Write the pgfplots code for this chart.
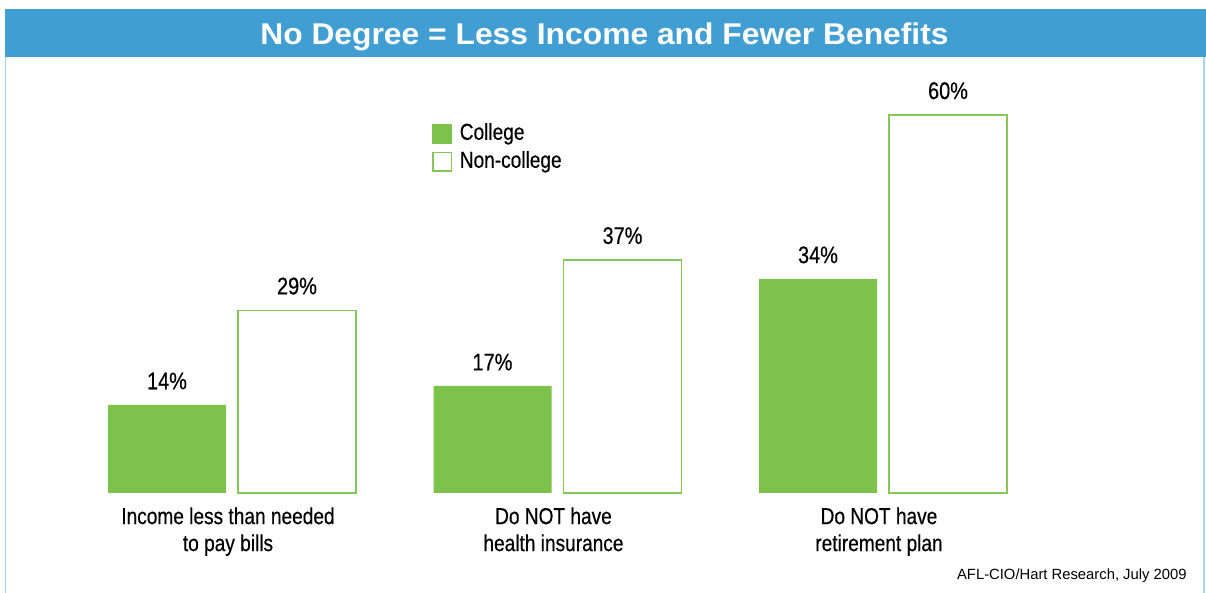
\documentclass[border=0pt]{standalone}
\usepackage{pgfplots}
\pgfplotsset{compat=1.18}
\usepackage{fontspec}
\setmainfont[FakeStretch=0.83,FakeBold=0.4]{Liberation Sans}
\newfontfamily\titlefont[FakeStretch=1.06]{Liberation Sans}
\newfontfamily\srcfont{Liberation Sans}
\definecolor{cgreen}{HTML}{7DC24B}
\definecolor{cgreenline}{HTML}{86C55A}
\definecolor{cblue}{HTML}{419ED3}
\definecolor{cborder}{HTML}{A9D4EF}
\begin{document}
\begin{tikzpicture}
\useasboundingbox (0pt,0pt) rectangle (603pt,296.5pt);
\fill[white] (0pt,0pt) rectangle (603pt,296.5pt);
% frame
\fill[cblue] (2.5pt,268pt) rectangle (603pt,292pt);
\draw[cborder,line width=0.75pt] (2.75pt,0pt) -- (2.75pt,268pt);
\draw[cborder,line width=0.75pt] (602pt,0pt) -- (602pt,268pt);
\node[font=\titlefont\bfseries\fontsize{15pt}{18pt}\selectfont,text=white,inner sep=0pt,anchor=base] at (302.25pt,274pt) {No Degree = Less Income and Fewer Benefits};
\node[font=\srcfont\fontsize{7.4pt}{9pt}\selectfont,anchor=base east,inner sep=0pt] at (593.5pt,6.5pt) {AFL-CIO/Hart Research, July 2009};
\begin{axis}[
  at={(0pt,50pt)}, anchor=south west,
  scale only axis, width=603pt, height=246.5pt,
  xmin=0, xmax=1206, ymin=0, ymax=78.254,
  ybar, bar width=59pt,
  axis line style={draw=none}, tick style={draw=none},
  major tick length=0pt,
  ytick=\empty,
  xtick={232,557.5,883},
  xticklabels={{Income less than needed\\to pay bills},{Do NOT have\\health insurance},{Do NOT have\\retirement plan}},
  xticklabel style={align=center,font=\fontsize{11.5pt}{13.5pt}\selectfont,inner sep=0pt,yshift=-7pt,xshift=-2pt},
  nodes near coords={\pgfmathprintnumber[assume math mode=true]{\pgfplotspointmeta}\%},
  every node near coord/.append style={font=\fontsize{12pt}{14pt}\selectfont,anchor=south,inner sep=0pt,yshift=7.5pt,text=black},
  legend style={at={(axis cs:432,59.05)},anchor=north west,draw=none,fill=none,inner sep=0pt,
    font=\fontsize{11.5pt}{13.5pt}\selectfont,row sep=1.6pt,
    nodes={inner sep=0.7pt,text height=8.5pt,text depth=2.5pt}},
  legend cell align=left,
  clip=false,
]
\addplot[fill=cgreen,draw=none,bar shift=-32.5pt,
  legend image code/.code={\fill[cgreen] (0pt,-5pt) rectangle (10pt,5pt);\path[draw=none,fill=none] (0pt,0pt) -- (13pt,0pt);}]
  coordinates {(232,14) (557.5,17) (883,34)};
\addlegendentry{College}
\addplot[fill=white,draw=cgreenline,line width=0.75pt,bar shift=32.5pt,
  legend image code/.code={\draw[cgreenline,fill=white,line width=0.75pt] (0.375pt,-4.625pt) rectangle (9.625pt,4.625pt);\path[draw=none,fill=none] (0pt,0pt) -- (13pt,0pt);}]
  coordinates {(232,29) (557.5,37) (883,60)};
\addlegendentry{Non-college}
\end{axis}
\end{tikzpicture}
\end{document}
